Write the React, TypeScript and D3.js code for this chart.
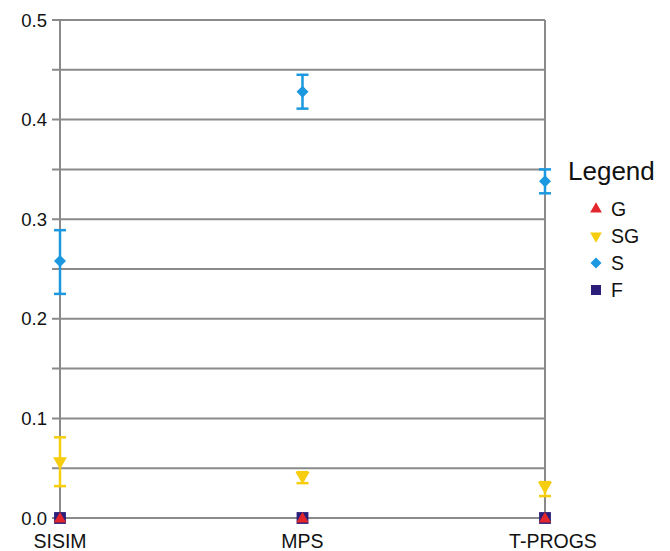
import React from "react";
import { scalePoint, scaleLinear, range, symbol, symbolTriangle, symbolSquare } from "d3";

const methods = ["SISIM", "MPS", "T-PROGS"];
const seriesNames = ["G", "SG", "S", "F"];
const colors = ["#e3262b", "#f6cd0f", "#1b98df", "#2b1e7b"];

// mean, low, high for each method
const G = [[0, 0, 0], [0, 0, 0], [0, 0, 0]];
const SG = [[0.057, 0.032, 0.081], [0.042, 0.035, 0.046], [0.032, 0.022, 0.036]];
const S = [[0.258, 0.225, 0.289], [0.428, 0.411, 0.445], [0.338, 0.326, 0.35]];
const F = [[0, 0, 0], [0, 0, 0], [0, 0, 0]];

const yTicks = [0, 0.1, 0.2, 0.3, 0.4, 0.5];

const diamond = (s: number) => `M0,${-s}L${s},0L0,${s}L${-s},0Z`;

export default function App() {
  const width = 670,
    height = 551,
    margin = { top: 20, right: 125, bottom: 33, left: 60 },
    innerWidth = width - margin.left - margin.right,
    innerHeight = height - margin.top - margin.bottom,
    x = scalePoint().domain(methods).range([0, innerWidth]),
    y = scaleLinear().domain([0, 0.5]).range([innerHeight, 0]),
    grid = range(0, 11).map((i) => i * 0.05),
    series = [G, SG, S, F],
    shapes = [
      symbol(symbolTriangle, 65)(),
      symbol(symbolTriangle, 85)(),
      diamond(6),
      symbol(symbolSquare, 140)(),
    ],
    legendShapes = [
      symbol(symbolTriangle, 60)(),
      symbol(symbolTriangle, 60)(),
      diamond(5.5),
      symbol(symbolSquare, 100)(),
    ],
    drawOrder = [3, 0, 1, 2];

  return (
    <svg width={width} height={height} style={{ position: "absolute", left: 0, top: 0 }}>
      <g transform={`translate(${margin.left},${margin.top})`} fontFamily="Liberation Sans, Arial, sans-serif">
        {grid.map((v) => (
          <line key={v} x1={-8} x2={innerWidth} y1={y(v)} y2={y(v)} stroke="#8a8a8a" strokeWidth={2} />
        ))}
        <line x1={0} x2={0} y1={0} y2={innerHeight} stroke="#8a8a8a" strokeWidth={2} />
        <line x1={innerWidth} x2={innerWidth} y1={0} y2={innerHeight} stroke="#8a8a8a" strokeWidth={2} />
        {yTicks.map((v) => (
          <text key={v} x={-13} y={y(v)} dy=".36em" textAnchor="end" fontSize={18.5} fill="#111">
            {v.toFixed(1)}
          </text>
        ))}
        {methods.map((m) => (
          <text key={m} x={x(m)! + (m === "T-PROGS" ? 8 : 0)} y={innerHeight + 30} textAnchor="middle" fontSize={19.5} fill="#111">
            {m}
          </text>
        ))}
        {drawOrder.map((si) => (
          <g key={si}>
            {series[si].map(([mean, lo, hi], i) => {
              const cx = x(methods[i])!;
              const rot = si === 1 ? 180 : 0;
              return (
                <g key={i}>
                  {hi > lo && (
                    <g stroke={colors[si]} strokeWidth={2.5}>
                      <line x1={cx} x2={cx} y1={y(lo)} y2={y(hi)} />
                      <line x1={cx - 6} x2={cx + 6} y1={y(lo)} y2={y(lo)} />
                      <line x1={cx - 6} x2={cx + 6} y1={y(hi)} y2={y(hi)} />
                    </g>
                  )}
                  <path
                    d={shapes[si]}
                    fill={colors[si]}
                    transform={`translate(${cx},${y(mean) + (si === 0 ? 1 : 0)}) rotate(${rot})`}
                  />
                </g>
              );
            })}
          </g>
        ))}
      </g>
      <g fontFamily="Liberation Sans, Arial, sans-serif">
        <text x={568} y={180} fontSize={26} fill="#111">
          Legend
        </text>
        {seriesNames.map((n, i) => (
          <g key={n} transform={`translate(596,${209 + i * 27})`}>
            <path d={legendShapes[i]} fill={colors[i]} transform={`rotate(${i === 1 ? 180 : 0})`} />
            <text x={15} dy=".36em" fontSize={19.5} fill="#111">
              {n}
            </text>
          </g>
        ))}
      </g>
    </svg>
  );
}
